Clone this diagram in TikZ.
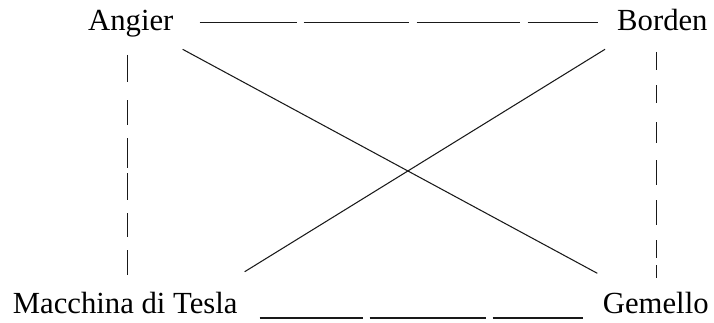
\documentclass[tikz,border=0pt]{standalone}
\usepackage{fontspec}
\setmainfont{Liberation Serif}
\usetikzlibrary{calc}
\begin{document}
\begin{tikzpicture}[x=1pt,y=1pt,
  lbl/.style={inner sep=0pt,anchor=base west,font=\fontsize{30.7}{36}\selectfont,text=black},
  conn/.style={line width=1.35pt,black!90}]
\useasboundingbox[fill=white] (0,0) rectangle (714,322);
\node[lbl] (angier) at (88,291) {Angier};
\node[lbl] (borden) at (617,291) {Borden};
\node[lbl] (tesla) at (12.7,8.7) {Macchina di Tesla};
\node[lbl] (gemello) at (602.7,8.7) {Gemello};
% top dashed
\draw[conn,dash pattern=on 97pt off 7pt on 105pt off 8pt on 103pt off 8pt on 200pt]
  ($(angier.base east)+(26,8.3)$) -- ($(borden.base west)+(-19,8.3)$);
% bottom dashed
\draw[conn,dash pattern=on 103pt off 7pt on 116pt off 7pt on 200pt]
  ($(tesla.base east)+(22,-4.6)$) -- ($(gemello.base west)+(-19.7,-4.6)$);
% left vertical
\coordinate (l1) at ($(angier.base)+(-3.6,-24)$);
\coordinate (l2) at ($(l1 |- tesla.base)+(0,38.3)$);
\draw[conn,dash pattern=on 27pt off 18pt on 25pt off 13pt on 30pt off 5pt on 27pt off 13pt on 24pt off 13pt on 60pt]
  (l1) -- (l2);
% right vertical
\coordinate (r1) at ($(borden.base west)+(39.7,-21)$);
\coordinate (r2) at ($(r1 |- gemello.base)+(0,35.3)$);
\draw[conn,dash pattern=on 18pt off 15pt on 18pt off 19pt on 21pt off 17pt on 25pt off 15pt on 25pt off 15pt on 18pt off 7pt on 60pt]
  (r1) -- (r2);
% diagonals
\draw[conn,line width=1.05pt] ($(angier.base east)+(9,-18.3)$) -- ($(gemello.base west)+(-5.4,40)$);
\draw[conn,line width=1.05pt] ($(tesla.base east)+(7,41.6)$) -- ($(borden.base west)+(-12,-18.3)$);
\end{tikzpicture}
\end{document}
